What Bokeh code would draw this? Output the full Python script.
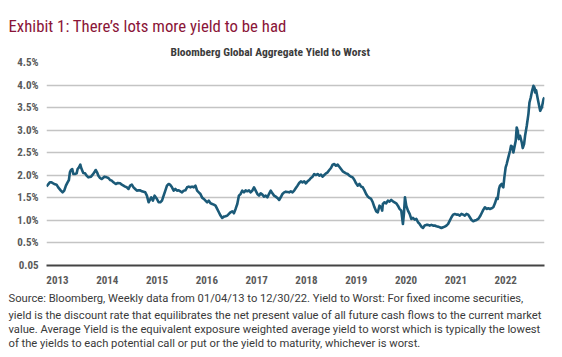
from bokeh.plotting import figure
from bokeh.models import FixedTicker, Range1d, Title
from bokeh.embed import file_html
from bokeh.resources import INLINE

# ---------------- data ----------------
title_text = "Exhibit 1: There\u2019s lots more yield to be had"
chart_title = "Bloomberg Global Aggregate Yield to Worst"
source_lines = [
    "Source: Bloomberg, Weekly data from 01/04/13 to 12/30/22. Yield to Worst: For fixed income securities,",
    "yield is the discount rate that equilibrates the net present value of all future cash flows to the current market",
    "value. Average Yield is the equivalent exposure weighted average yield to worst which is typically the lowest",
    "of the yields to each potential call or put or the yield to maturity, whichever is worst.",
]

start_year = 2013
# time elapsed since 01/2013, in years
year_offsets = [
    0.000, 0.067, 0.101, 0.155, 0.202, 0.235, 0.289, 0.323, 0.356, 0.390, 0.423, 0.450, 0.470, 0.491,
    0.517, 0.538, 0.571, 0.605, 0.625, 0.652, 0.679, 0.692, 0.719, 0.739, 0.773, 0.806, 0.840, 0.894,
    0.927, 0.961, 0.988, 1.015, 1.042, 1.075, 1.109, 1.163, 1.210, 1.243, 1.277, 1.310, 1.344, 1.391,
    1.431, 1.478, 1.512, 1.546, 1.579, 1.613, 1.647, 1.680, 1.714, 1.747, 1.781, 1.815, 1.848, 1.882,
    1.915, 1.983, 2.016, 2.050, 2.103, 2.137, 2.171, 2.218, 2.251, 2.285, 2.319, 2.352, 2.386, 2.419,
    2.453, 2.487, 2.520, 2.554, 2.587, 2.621, 2.655, 2.722, 2.755, 2.789, 2.823, 2.856, 2.890, 2.923,
    2.957, 2.991, 3.024, 3.058, 3.091, 3.125, 3.159, 3.192, 3.226, 3.259, 3.293, 3.327, 3.360, 3.394,
    3.427, 3.461, 3.495, 3.528, 3.562, 3.595, 3.629, 3.663, 3.696, 3.730, 3.763, 3.797, 3.831, 3.864,
    3.898, 3.931, 3.965, 3.999, 4.032, 4.066, 4.100, 4.133, 4.167, 4.200, 4.234, 4.268, 4.301, 4.335,
    4.368, 4.402, 4.435, 4.469, 4.503, 4.536, 4.570, 4.603, 4.637, 4.671, 4.704, 4.738, 4.772, 4.805,
    4.872, 4.906, 4.940, 4.973, 5.007, 5.040, 5.074, 5.108, 5.141, 5.175, 5.208, 5.242, 5.276, 5.309,
    5.343, 5.376, 5.410, 5.444, 5.477, 5.511, 5.544, 5.578, 5.612, 5.645, 5.679, 5.712, 5.746, 5.780,
    5.813, 5.847, 5.880, 5.914, 5.948, 5.981, 6.015, 6.048, 6.082, 6.116, 6.149, 6.183, 6.216, 6.250,
    6.284, 6.317, 6.351, 6.385, 6.418, 6.452, 6.485, 6.519, 6.552, 6.586, 6.620, 6.653, 6.687, 6.720,
    6.741, 6.754, 6.788, 6.821, 6.855, 6.889, 6.922, 6.956, 6.989, 7.023, 7.056, 7.090, 7.124, 7.157,
    7.177, 7.198, 7.224, 7.258, 7.292, 7.325, 7.359, 7.393, 7.426, 7.460, 7.493, 7.527, 7.560, 7.594,
    7.628, 7.661, 7.695, 7.728, 7.762, 7.796, 7.829, 7.863, 7.896, 7.930, 7.964, 7.997, 8.031, 8.065,
    8.098, 8.132, 8.165, 8.199, 8.233, 8.266, 8.300, 8.333, 8.367, 8.401, 8.434, 8.468, 8.501, 8.535,
    8.569, 8.602, 8.636, 8.669, 8.703, 8.737, 8.770, 8.804, 8.837, 8.871, 8.905, 8.938, 8.972, 9.005,
    9.039, 9.059, 9.086, 9.106, 9.140, 9.160, 9.173, 9.194, 9.220, 9.241, 9.274, 9.308, 9.328, 9.355,
    9.375, 9.395, 9.422, 9.442, 9.462, 9.483, 9.509, 9.543, 9.563, 9.590, 9.610, 9.644, 9.677, 9.698,
    9.724, 9.751, 9.778, 9.798, 9.812, 9.832, 9.859, 9.879, 9.913, 9.946, 9.980, 10.000,
]
# yield to worst, percent
yields = [
    1.755, 1.844, 1.844, 1.807, 1.792, 1.733, 1.659, 1.622, 1.659, 1.770, 1.844, 1.895, 2.065, 2.117,
    2.139, 2.028, 2.028, 2.043, 2.139, 2.176, 2.235, 2.176, 2.102, 2.050, 2.043, 1.991, 1.954, 1.969,
    2.013, 2.065, 2.117, 2.065, 1.991, 1.940, 1.917, 1.969, 1.954, 1.940, 1.895, 1.881, 1.844, 1.807,
    1.829, 1.822, 1.792, 1.770, 1.748, 1.733, 1.696, 1.770, 1.792, 1.733, 1.696, 1.659, 1.666, 1.666,
    1.645, 1.622, 1.549, 1.401, 1.512, 1.438, 1.549, 1.475, 1.401, 1.401, 1.438, 1.549, 1.659, 1.770,
    1.807, 1.785, 1.733, 1.659, 1.696, 1.659, 1.666, 1.622, 1.659, 1.666, 1.733, 1.748, 1.733, 1.748,
    1.733, 1.770, 1.659, 1.622, 1.586, 1.504, 1.475, 1.438, 1.401, 1.438, 1.379, 1.364, 1.350, 1.327,
    1.254, 1.180, 1.106, 1.055, 1.084, 1.091, 1.106, 1.143, 1.180, 1.202, 1.158, 1.254, 1.364, 1.549,
    1.586, 1.659, 1.622, 1.666, 1.645, 1.666, 1.622, 1.659, 1.733, 1.659, 1.586, 1.549, 1.600, 1.571,
    1.527, 1.549, 1.512, 1.586, 1.659, 1.600, 1.549, 1.527, 1.497, 1.453, 1.512, 1.586, 1.622, 1.637,
    1.622, 1.645, 1.622, 1.659, 1.718, 1.770, 1.829, 1.866, 1.844, 1.866, 1.822, 1.866, 1.895, 1.940,
    1.969, 2.028, 2.006, 2.028, 1.991, 2.013, 1.969, 2.006, 2.043, 2.065, 2.117, 2.161, 2.235, 2.249,
    2.212, 2.235, 2.190, 2.139, 2.087, 2.065, 2.043, 2.028, 1.991, 1.969, 1.954, 1.895, 1.822, 1.770,
    1.807, 1.748, 1.733, 1.666, 1.586, 1.527, 1.497, 1.475, 1.401, 1.290, 1.202, 1.180, 1.327, 1.290,
    1.217, 1.364, 1.401, 1.379, 1.438, 1.416, 1.453, 1.423, 1.401, 1.379, 1.327, 1.254, 1.217, 0.920,
    1.143, 1.512, 1.327, 1.217, 1.143, 1.032, 1.055, 1.018, 1.032, 0.958, 0.921, 0.862, 0.833, 0.885,
    0.900, 0.900, 0.885, 0.900, 0.885, 0.885, 0.870, 0.862, 0.848, 0.833, 0.848, 0.862, 0.885, 0.922,
    0.996, 1.069, 1.128, 1.143, 1.128, 1.128, 1.106, 1.143, 1.128, 1.106, 1.143, 1.128, 1.069, 1.010,
    0.981, 0.996, 1.010, 1.032, 1.084, 1.158, 1.232, 1.291, 1.254, 1.268, 1.254, 1.268, 1.291, 1.379,
    1.497, 1.475, 1.696, 1.770, 1.807, 1.748, 1.733, 1.954, 2.176, 2.249, 2.397, 2.544, 2.655, 2.633,
    2.507, 2.618, 2.765, 3.060, 2.987, 2.802, 2.876, 2.729, 2.603, 2.692, 2.876, 3.097, 3.356, 3.614,
    3.724, 3.872, 3.982, 3.945, 3.835, 3.886, 3.724, 3.614, 3.429, 3.503, 3.687, 3.724,
]

x_tick_labels = ["2013", "2014", "2015", "2016", "2017", "2018", "2019", "2020", "2021", "2022"]
y_ticks = [0.0, 0.5, 1.0, 1.5, 2.0, 2.5, 3.0, 3.5, 4.0, 4.5]
y_tick_labels = ["0.05", "0.5%", "1.0%", "1.5%", "2.0%", "2.5%", "3.0%", "3.5%", "4.0%", "4.5%"]

# ---------------- figure ----------------
years = [start_year + o for o in year_offsets]
label_shift = 0.22  # year labels sit left-aligned at the start of each year
x_tick_pos = [int(t) + label_shift for t in x_tick_labels]

p = figure(width=562, height=357, output_backend="svg", toolbar_location=None,
           x_range=Range1d(2013, 2023), y_range=Range1d(0, 4.5),
           min_border_left=46, min_border_right=18, min_border_top=62, min_border_bottom=92,
           background_fill_color="white", border_fill_color="white")
p.outline_line_color = None

p.line(years, yields, line_color="#1b5a78", line_width=2.6, line_join="round")

axis_font = "'Roboto Condensed', Roboto"
p.xaxis.ticker = FixedTicker(ticks=x_tick_pos)
p.xaxis.major_label_overrides = dict(zip(x_tick_pos, x_tick_labels))
p.xaxis.axis_line_color = "#444444"
p.xaxis.axis_line_width = 2.2
p.xaxis.major_tick_line_color = None
p.xaxis.minor_tick_line_color = None
p.xaxis.major_tick_out = 0
p.xaxis.major_tick_in = 0
p.xaxis.major_label_standoff = 10
p.xaxis.major_label_text_font = axis_font
p.xaxis.major_label_text_font_size = "11px"
p.xaxis.major_label_text_font_style = "bold"
p.xaxis.major_label_text_color = "#5a5a5a"

p.yaxis.ticker = FixedTicker(ticks=y_ticks)
p.yaxis.major_label_overrides = dict(zip(y_ticks, y_tick_labels))
p.yaxis.axis_line_color = None
p.yaxis.major_tick_line_color = None
p.yaxis.minor_tick_line_color = None
p.yaxis.major_tick_out = 0
p.yaxis.major_tick_in = 0
p.yaxis.major_label_standoff = 8
p.yaxis.major_label_text_font = axis_font
p.yaxis.major_label_text_font_size = "11px"
p.yaxis.major_label_text_font_style = "bold"
p.yaxis.major_label_text_color = "#5a5a5a"

p.xgrid.visible = False
p.ygrid.ticker = FixedTicker(ticks=y_ticks)
p.ygrid.grid_line_color = "#c4c4c4"
p.ygrid.grid_line_width = 1.3

# ---------------- titles above (first added sits closest to the frame) ----------------
cond_font = "'Roboto Condensed', Roboto"
p.add_layout(Title(text=chart_title, align="left", offset=124, standoff=8,
                   text_font=cond_font, text_font_size="11.5px", text_font_style="bold",
                   text_color="#3c3c3c"), "above")
p.add_layout(Title(text=title_text, align="left", offset=-38, standoff=6,
                   text_font=cond_font, text_font_size="16.8px", text_font_style="normal",
                   text_color="#8a1538"), "above")

# ---------------- source note below ----------------
for i, line in enumerate(source_lines):
    p.add_layout(Title(text=line, align="left", offset=-38, standoff=6 if i == 0 else -1.5,
                       text_font="Roboto", text_font_size="11.2px", text_font_style="normal",
                       text_color="#3a3a3a"), "below")

open("out.html", "w").write(file_html(p, INLINE))
